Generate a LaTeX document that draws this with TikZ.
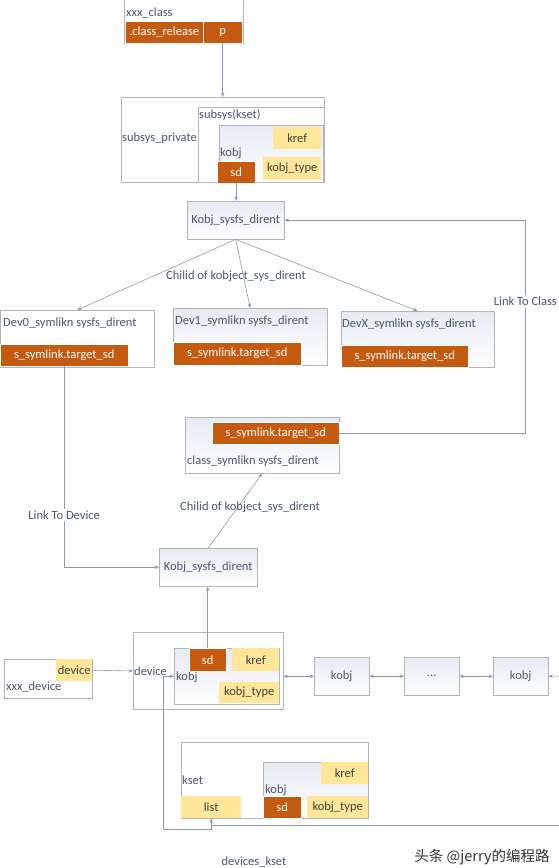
\documentclass[tikz,border=0pt]{standalone}
\usepackage{fontspec}
\setmainfont{Carlito}
\newfontfamily\cjkfont{Noto Sans CJK SC}
\usetikzlibrary{arrows.meta}

\definecolor{brick}{HTML}{C55A11}
\definecolor{gold}{HTML}{FFE699}
\definecolor{linegray}{HTML}{B4B4B4}
\definecolor{wire}{HTML}{8A97B6}
\definecolor{slate}{HTML}{4A5673}
\definecolor{objbg}{HTML}{E6EAF3}

\begin{document}
\begin{tikzpicture}[x=1pt, y=-1pt, font=\fontsize{12.5}{15}\selectfont,
  >={Stealth[length=4.5pt,width=3.5pt]},
  box/.style={draw=linegray, fill=white, inner sep=0pt, anchor=north west},
  objbox/.style={box, top color=objbg, bottom color=white},
  hot/.style={fill=brick, draw=white, text=white, inner sep=0pt, anchor=north west},
  pale/.style={fill=gold, text=black!75, inner sep=0pt, anchor=north west},
  lbl/.style={text=slate, anchor=west, inner sep=1pt},
  lnk/.style={draw=wire, line width=0.6pt}]

\useasboundingbox (0,0) rectangle (558,868);

% ===== class and subsys_private =====
\node[box, minimum width=119pt, minimum height=45pt] (clsbox) at (124,-2) {};
\node[lbl] (clslbl) at (125,13) {xxx\_class};
\node[hot, minimum width=78pt, minimum height=22pt] (release) at (125,21) {.class\_release};
\node[hot, minimum width=39pt, minimum height=22pt] (p) at (203,21) {p};

\node[box, minimum width=203pt, minimum height=85pt] (subsys) at (121,97) {};
\node[lbl] (privlbl) at (121,138) {subsys\_private};
\node[box, minimum width=126pt, minimum height=75pt] (kset) at (198,107) {};
\node[lbl] (ksetlbl) at (198,115) {subsys(kset)};
\node[objbox, minimum width=104pt, minimum height=57pt] (kobjS) at (219,125) {};
\node[lbl] (kobjSlbl) at (219,153) {kobj};
\node[pale, minimum width=48pt, minimum height=22pt] (krefS) at (273,127) {kref};
\node[pale, minimum width=58pt, minimum height=23pt] (typeS) at (263,157) {kobj\_type};
\node[hot, minimum width=38pt, minimum height=22pt] (sdS) at (217,161) {sd};

\draw[lnk,->] (p.south) -- (p.south |- subsys.north);

% ===== class sysfs_dirent and its children =====
\node[objbox, minimum width=97pt, minimum height=38pt, text=slate] (dirent1) at (187,201) {Kobj\_sysfs\_dirent};
\draw[lnk,->] (sdS.south) -- (sdS.south |- dirent1.north);

\node[box, minimum width=154pt, minimum height=57pt] (dev0) at (0,310) {};
\node[lbl] (dev0lbl) at (2,323) {Dev0\_symlikn sysfs\_dirent};
\node[hot, minimum width=128pt, minimum height=22pt] (tgt0) at (0,344) {s\_symlink.target\_sd};

\node[objbox, minimum width=154pt, minimum height=57pt] (dev1) at (173,308) {};
\node[lbl] (dev1lbl) at (174,321) {Dev1\_symlikn sysfs\_dirent};
\node[hot, minimum width=128pt, minimum height=23pt] (tgt1) at (173,342) {s\_symlink.target\_sd};

\node[objbox, minimum width=153pt, minimum height=56pt] (devX) at (341,311) {};
\node[lbl] (devXlbl) at (341,324) {DevX\_symlikn sysfs\_dirent};
\node[hot, minimum width=127pt, minimum height=22pt] (tgtX) at (341,345) {s\_symlink.target\_sd};

\foreach \d in {dev0,dev1,devX}
  \draw[lnk,->] (dirent1.south) -- (\d.north);
\node[text=slate] (child1) at (236,276) {Chilid of kobject\_sys\_dirent};

% ===== class symlink =====
\node[objbox, minimum width=154pt, minimum height=56pt] (clsln) at (185,417) {};
\node[hot, minimum width=127pt, minimum height=22pt] (tgtC) at (212,422) {s\_symlink.target\_sd};
\node[lbl] (clslnlbl) at (186,461) {class\_symlikn sysfs\_dirent};

\draw[lnk,->] (tgtC.east) -- ++(186,0) |- (dirent1.east)
  node[pos=0.31, fill=white, text=slate, inner sep=2pt] {Link To Class};

% ===== device sysfs_dirent =====
\node[objbox, minimum width=98pt, minimum height=38pt, text=slate] (dirent2) at (159,548) {Kobj\_sysfs\_dirent};
\draw[lnk,->] (tgt0.south) |- (dirent2.west)
  node[pos=0.37, fill=white, text=slate, inner sep=2pt] {Link To Device};
\draw[lnk,->] (dirent2.north) -- (clsln.south);
\node[text=slate] (child2) at (250,507) {Chilid of kobject\_sys\_dirent};

% ===== device =====
\node[box, minimum width=88pt, minimum height=39pt] (xdev) at (4,659) {};
\node[pale, minimum width=36pt, minimum height=22pt] (devY) at (56,659) {device};
\node[lbl] (xdevlbl) at (5,687) {xxx\_device};

\node[box, minimum width=150pt, minimum height=77pt] (device) at (133,632) {};
\node[lbl] (devlbl) at (133,671) {device};
\node[objbox, minimum width=105pt, minimum height=56pt] (kobjD) at (174,648) {};
\node[lbl] (kobjDlbl) at (175,677) {kobj};
\node[hot, minimum width=37pt, minimum height=23pt] (sdD) at (189,648) {sd};
\node[pale, minimum width=47pt, minimum height=23pt] (krefD) at (232,648) {kref};
\node[pale, minimum width=60pt, minimum height=21pt] (typeD) at (219,682) {kobj\_type};

\draw[lnk,->] (devY.east) -- (devlbl.west);
\draw[lnk,->] (sdD.north) -- (sdD.north |- dirent2.south);

% ===== kobj list =====
\node[objbox, minimum width=55pt, minimum height=38pt, text=black!65] (kobj1) at (314,657) {kobj};
\node[objbox, minimum width=55pt, minimum height=38pt, text=black!65] (dots) at (404,657) {...};
\node[objbox, minimum width=55pt, minimum height=38pt, text=black!65] (kobj3) at (493,657) {kobj};
\coordinate (redge) at (560,676);

\draw[lnk,<->] (kobj1.west -| device.east) -- (kobj1.west);
\draw[lnk,<->] (kobj1.east) -- (dots.west);
\draw[lnk,<->] (dots.east) -- (kobj3.west);
\draw[lnk,<-] (kobj3.east) -- (redge);

% ===== devices_kset =====
\node[box, minimum width=187pt, minimum height=76pt] (dkset) at (181,742) {};
\node[lbl] (dksetlbl) at (181,780) {kset};
\node[pale, minimum width=60pt, minimum height=22pt] (list) at (181,796) {list};
\node[objbox, minimum width=105pt, minimum height=56pt] (kobjK) at (263,762) {};
\node[lbl] (kobjKlbl) at (264,790) {kobj};
\node[pale, minimum width=47pt, minimum height=22pt] (krefK) at (321,762) {kref};
\node[hot, minimum width=38pt, minimum height=22pt] (sdK) at (263,796) {sd};
\node[pale, minimum width=61pt, minimum height=22pt] (typeK) at (307,796) {kobj\_type};
\coordinate (bedge) at (560,825);

\draw[lnk,<->] (list.south) -- ++(0,11) -- ++(-48,0) |- (kobjD.west);
\draw[lnk] (bedge) -- (list.south |- bedge);

\node[text=slate] (dksetname) at (254,862) {devices\_kset};
\node[text=black!80, font=\cjkfont\fontsize{14.5}{17}\selectfont] (mark) at (482,857) {头条 @jerry的编程路};

\end{tikzpicture}
\end{document}
